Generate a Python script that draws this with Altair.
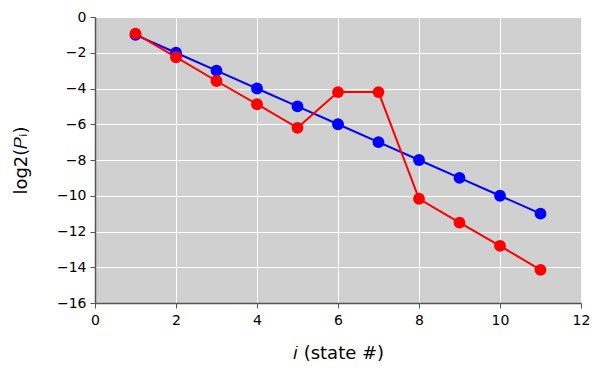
import altair as alt
import pandas as pd

states = [1, 2, 3, 4, 5, 6, 7, 8, 9, 10, 11]
blue_vals = [-1, -2, -3, -4, -5, -6, -7, -8, -9, -10, -11]
red_vals = [-0.93, -2.25, -3.58, -4.88, -6.2, -4.2, -4.2, -10.17, -11.5, -12.8, -14.15]

df = pd.DataFrame({
    "i": states + states,
    "v": blue_vals + red_vals,
    "s": ["blue"] * len(states) + ["red"] * len(states),
})

x = alt.X("i:Q", scale=alt.Scale(domain=[0, 12], nice=False),
          axis=alt.Axis(values=[0, 2, 4, 6, 8, 10, 12], title="𝑖 (state #)"))
y = alt.Y("v:Q", scale=alt.Scale(domain=[-16, 0], nice=False),
          axis=alt.Axis(values=list(range(-16, 1, 2)), title="log2(𝑃ᵢ)"))
color = alt.Color("s:N", scale=alt.Scale(domain=["blue", "red"], range=["#0000ff", "#ff0000"]), legend=None)

base = alt.Chart(df).encode(x=x, y=y, color=color, detail="s:N")
lines = base.mark_line(strokeWidth=2)
pts = base.mark_circle(size=140, opacity=1)

chart = alt.layer(lines, pts).properties(
    width=486, height=286,
    autosize=alt.AutoSizeParams(type="none"),
    padding={"left": 87, "top": 9, "right": 11, "bottom": 60},
).configure_view(fill="#d0d0d0", stroke="#999999", strokeWidth=1).configure_axis(
    gridColor="white", gridWidth=1, gridOpacity=1, labelFlush=False,
    domainColor="#555555", domainWidth=1.5, tickColor="#555555", tickSize=5,
    labelFont="DejaVu Sans", labelFontSize=14, labelColor="black",
    titleFont="DejaVu Sans", titleFontSize=18, titleFontWeight="normal", titleColor="black",
).configure_axisX(titlePadding=17, labelPadding=5).configure_axisY(titlePadding=26, labelPadding=4)

chart.save("out.html", embed_options={"renderer": "svg", "actions": False})
